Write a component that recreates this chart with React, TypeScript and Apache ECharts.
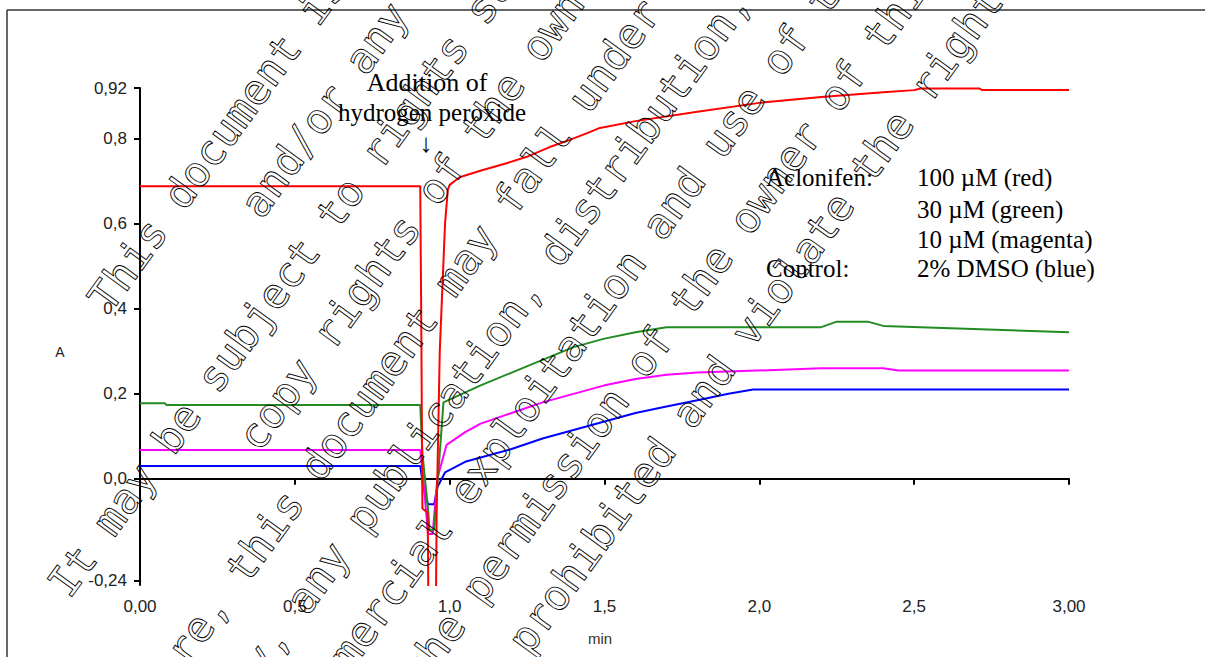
import React, { useEffect, useRef } from "react";
import * as echarts from "echarts";

// Axis ticks
const xTickLabels = ["0,00", "0,5", "1,0", "1,5", "2,0", "2,5", "3,00"];
const yTickValues = [-0.24, 0, 0.2, 0.4, 0.6, 0.8, 0.92];
const yTickLabels = ["-0,24", "0,0", "0,2", "0,4", "0,6", "0,8", "0,92"];

// Absorbance traces, [time (min), A]
const red100uM: [number, number][] = [
  [0, 0.689], [0.905, 0.689], [0.908, 0.4], [0.912, -0.07], [0.929, -0.08],
  [0.932, -0.35], [0.955, -0.35], [0.958, -0.08], [0.968, 0.3], [0.985, 0.6],
  [0.994, 0.68], [1.0, 0.692], [1.032, 0.71], [1.107, 0.727], [1.184, 0.743],
  [1.249, 0.758], [1.323, 0.781], [1.388, 0.798], [1.452, 0.816], [1.485, 0.826],
  [1.6, 0.842], [1.8, 0.864], [2.0, 0.885], [2.2, 0.899], [2.4, 0.91],
  [2.5, 0.915], [2.52, 0.919], [2.71, 0.919], [2.72, 0.915], [3.0, 0.915],
];
const green30uM: [number, number][] = [
  [0, 0.178], [0.08, 0.178], [0.085, 0.174], [0.905, 0.174], [0.912, 0.06],
  [0.93, -0.07], [0.935, -0.12], [0.95, -0.12], [0.955, -0.07], [0.98, 0.18],
  [1.04, 0.2], [1.1, 0.22], [1.2, 0.25], [1.3, 0.28], [1.4, 0.31],
  [1.5, 0.33], [1.6, 0.345], [1.7, 0.357], [2.2, 0.357], [2.25, 0.37],
  [2.35, 0.37], [2.4, 0.36], [3.0, 0.345],
];
const magenta10uM: [number, number][] = [
  [0, 0.068], [0.905, 0.068], [0.915, 0.0], [0.93, -0.13], [0.945, -0.13],
  [0.96, 0.0], [0.99, 0.08], [1.05, 0.11], [1.1, 0.13], [1.2, 0.155],
  [1.3, 0.18], [1.4, 0.2], [1.5, 0.22], [1.6, 0.235], [1.7, 0.245],
  [1.8, 0.25], [2.2, 0.26], [2.4, 0.26], [2.45, 0.255], [3.0, 0.255],
];
const blueControl: [number, number][] = [
  [0, 0.03], [0.905, 0.03], [0.915, -0.02], [0.93, -0.06], [0.95, -0.06],
  [0.96, -0.02], [0.985, 0.015], [1.05, 0.04], [1.1, 0.05], [1.2, 0.07],
  [1.3, 0.095], [1.4, 0.115], [1.5, 0.135], [1.6, 0.155], [1.7, 0.17],
  [1.8, 0.185], [1.9, 0.2], [1.98, 0.21], [3.0, 0.21],
];

// Diagonal notice printed across the figure: each line with its start offset along the slant
const noticeLines: { text: string; s: number }[] = [
  { text: "This document is the property of Bayer AG", s: -177 },
  { text: "and/or any of its affiliates.", s: -12 },
  { text: "It may be subject to rights such as intellectual property and", s: -432 },
  { text: "copy rights of the owner and third parties.", s: -202 },
  { text: "Furthermore, this document may fall under a regulatory data protection regime.", s: -645 },
  { text: "Consequently, any publication, distribution, reproduction and/or publishing and", s: -660 },
  { text: "any commercial exploitation and use of this document or its contents without", s: -502 },
  { text: "the permission of the owner of this document may therefore be", s: -295 },
  { text: "prohibited and violate the rights of its owner.", s: -207 },
];

const serif = "'Liberation Serif', 'Times New Roman', serif";
const sans = "'Liberation Sans', Arial, sans-serif";

export default function App() {
  const ref = useRef<HTMLDivElement>(null);

  useEffect(() => {
    document.body.style.margin = "0";
    document.documentElement.style.overflow = "hidden";
    if (!ref.current) return;
    const chart = echarts.init(ref.current, undefined, { renderer: "svg" });

    // Slanted notice: 54 degrees, fixed line spacing, monospace pitch
    const theta = (54 * Math.PI) / 180;
    const N = [Math.sin(theta), Math.cos(theta)];
    const D = [Math.cos(theta), -Math.sin(theta)];
    const pitch = 25.4;
    const firstLine = 259.4;
    const lineGap = 67.5;
    const notice = noticeLines.map((l, k) => {
      const n = firstLine + k * lineGap;
      const cx = n * N[0] + (l.s - pitch / 2) * D[0];
      const cy = n * N[1] + (l.s - pitch / 2) * D[1];
      return {
        type: "text",
        x: cx,
        y: cy,
        rotation: theta,
        z: 100,
        silent: true,
        style: {
          text: l.text,
          font: "42px 'DejaVu Sans Mono', monospace",
          fill: "none",
          stroke: "#000",
          lineWidth: 0.9,
          textAlign: "left",
          textVerticalAlign: "middle",
          align: "left",
          verticalAlign: "middle",
        },
      };
    });

    const plainText = (
      text: string,
      x: number,
      y: number,
      font: string,
      align: "left" | "center",
      fill = "#000"
    ) => ({
      type: "text",
      x,
      y,
      z: 50,
      style: {
        text,
        font,
        fill,
        textAlign: align,
        textVerticalAlign: "middle",
        align,
        verticalAlign: "middle",
      },
    });

    const mkSeries = (data: [number, number][], color: string) => ({
      type: "line",
      data,
      symbol: "none",
      clip: true,
      lineStyle: { color, width: 2 },
    });

    const frameStyle = { stroke: "#333", lineWidth: 1.5 };

    chart.setOption({
      animation: false,
      backgroundColor: "#fff",
      grid: { left: 140, right: 136, top: 88, bottom: 72 },
      xAxis: {
        type: "value",
        min: 0,
        max: 3,
        interval: 0.5,
        axisLine: { lineStyle: { color: "#000", width: 2 } },
        axisTick: { show: true, length: 6, lineStyle: { color: "#000", width: 2 } },
        axisLabel: {
          color: "#222",
          fontFamily: sans,
          fontSize: 17,
          margin: 13,
          formatter: (v: number) => xTickLabels[Math.round(v / 0.5)] ?? "",
        },
        splitLine: { show: false },
      },
      yAxis: {
        type: "value",
        min: -0.25,
        max: 0.92,
        axisLine: { show: true, onZero: false, lineStyle: { color: "#000", width: 2 } },
        axisTick: {
          show: true,
          length: 6,
          customValues: yTickValues,
          lineStyle: { color: "#000", width: 2 },
        },
        axisLabel: {
          color: "#222",
          fontFamily: sans,
          fontSize: 17,
          margin: 13,
          customValues: yTickValues,
          formatter: (v: number) => {
            const i = yTickValues.findIndex((t) => Math.abs(t - v) < 1e-6);
            return i >= 0 ? yTickLabels[i] : "";
          },
        },
        splitLine: { show: false },
      },
      series: [
        mkSeries(blueControl, "#0000ff"),
        mkSeries(magenta10uM, "#ff00ff"),
        mkSeries(green30uM, "#228b22"),
        mkSeries(red100uM, "#ff0000"),
      ],
      graphic: [
        { type: "line", shape: { x1: 7, y1: 10, x2: 1205, y2: 10 }, style: frameStyle, silent: true },
        { type: "line", shape: { x1: 7, y1: 10, x2: 7, y2: 657 }, style: frameStyle, silent: true },
        plainText("A", 60, 352, `14px ${sans}`, "center", "#222"),
        plainText("min", 600, 638, `15px ${sans}`, "center", "#3a3020"),
        plainText("Addition of", 427, 82, `26px ${serif}`, "center"),
        plainText("hydrogen peroxide", 432, 112, `25px ${serif}`, "center"),
        plainText("↓", 426, 143, `26px ${serif}`, "center"),
        plainText("Aclonifen:", 766, 177, `25px ${serif}`, "left"),
        plainText("Control:", 766, 268, `25px ${serif}`, "left"),
        plainText("100 µM (red)", 917, 177, `25px ${serif}`, "left"),
        plainText("30 µM (green)", 917, 209, `25px ${serif}`, "left"),
        plainText("10 µM (magenta)", 917, 239, `25px ${serif}`, "left"),
        plainText("2% DMSO (blue)", 917, 268, `25px ${serif}`, "left"),
        ...notice,
      ],
    });

    return () => chart.dispose();
  }, []);

  return (
    <div
      ref={ref}
      style={{ position: "absolute", left: 0, top: 0, width: 1205, height: 657 }}
    />
  );
}
